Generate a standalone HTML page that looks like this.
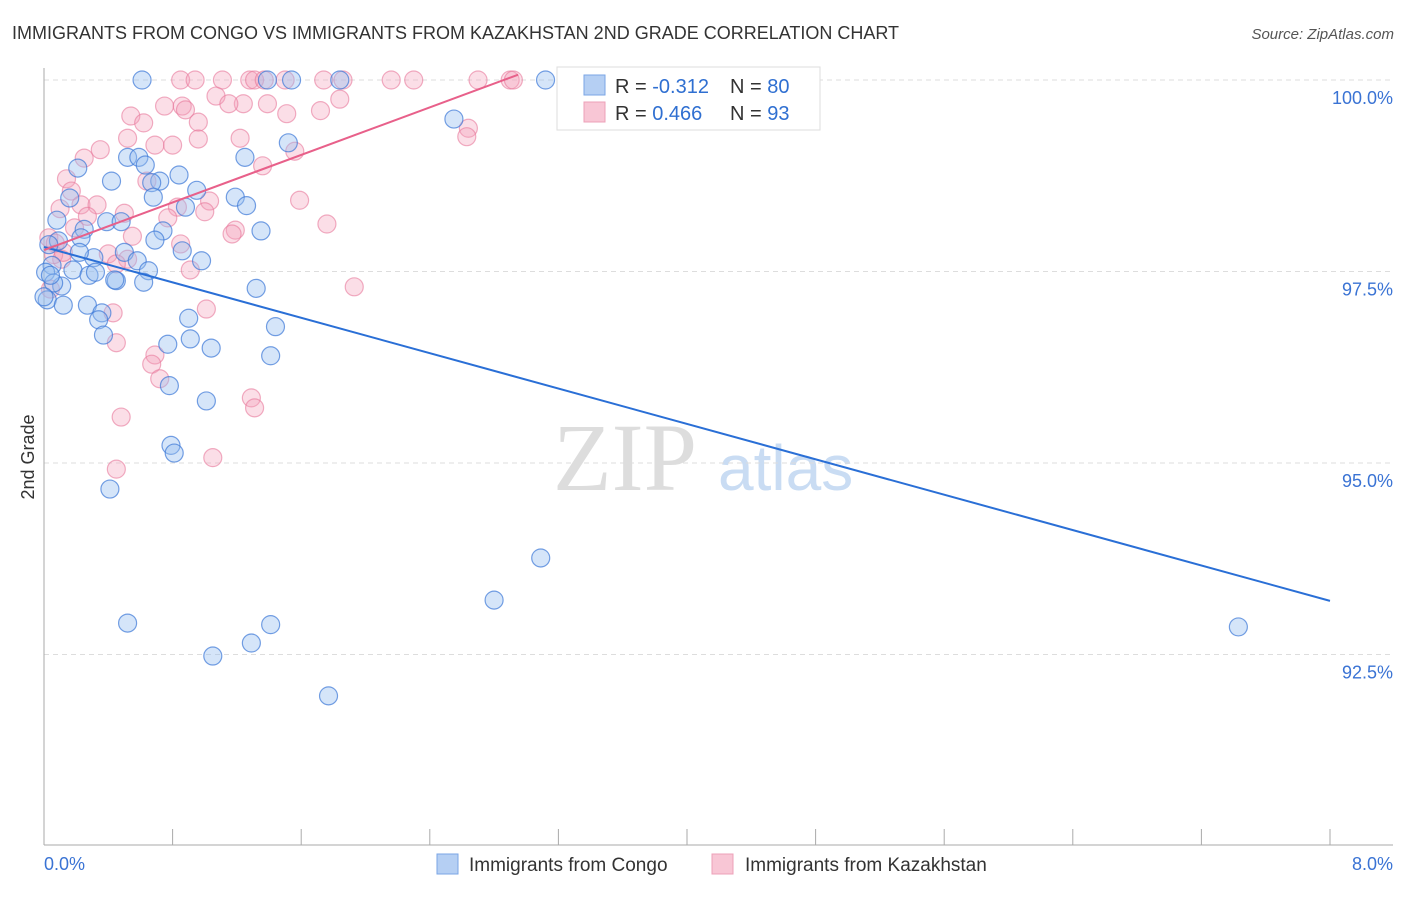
<!DOCTYPE html>
<html><head><meta charset="utf-8"><style>
html,body{margin:0;padding:0;background:#fff;}
body{width:1406px;height:892px;overflow:hidden;font-family:"Liberation Sans",sans-serif;}
</style></head><body>
<svg id="chart" width="1406" height="892" xmlns="http://www.w3.org/2000/svg" font-family="Liberation Sans, sans-serif">
<text x="12" y="39" font-size="18" fill="#333">IMMIGRANTS FROM CONGO VS IMMIGRANTS FROM KAZAKHSTAN 2ND GRADE CORRELATION CHART</text>
<text x="1394" y="39" font-size="15" fill="#555" font-style="italic" text-anchor="end">Source: ZipAtlas.com</text>
<text x="553" y="490" font-size="96" fill="#ddd" font-family="Liberation Serif, serif">ZIP</text>
<text x="718" y="490" font-size="64" fill="#c9dcf3">atlas</text>
<text transform="translate(34,457) rotate(-90)" font-size="18" fill="#333" text-anchor="middle">2nd Grade</text>
<g id="grid"></g>
<g id="axes"></g>
<g id="pts"></g>
<g id="lines"></g>
<g>
<rect x="557" y="67" width="263" height="63" fill="#fff" stroke="#ddd"/>
<rect x="584" y="75" width="21" height="20" fill="#b5cff3" stroke="#7aa5e6"/>
<rect x="584" y="102" width="21" height="20" fill="#f8c6d5" stroke="#eda0b8"/>
<text x="615" y="93" font-size="20" fill="#333">R = <tspan fill="#2f6fd1">-0.312</tspan></text>
<text x="730" y="93" font-size="20" fill="#333">N = <tspan fill="#2f6fd1">80</tspan></text>
<text x="615" y="120" font-size="20" fill="#333">R = <tspan fill="#2f6fd1"> 0.466</tspan></text>
<text x="730" y="120" font-size="20" fill="#333">N = <tspan fill="#2f6fd1"> 93</tspan></text>
</g>
<g>
<rect x="437" y="854" width="21" height="20" fill="#b5cff3" stroke="#7aa5e6"/>
<text x="469" y="871" font-size="19" fill="#333">Immigrants from Congo</text>
<rect x="712" y="854" width="21" height="20" fill="#f8c6d5" stroke="#eda0b8"/>
<text x="745" y="871" font-size="19" fill="#333">Immigrants from Kazakhstan</text>
</g>
</svg>
<script>
const yTicks=[100,97.5,95,92.5];
const yTickLabels=["100.0%","97.5%","95.0%","92.5%"];
const xTickLabels=["0.0%","8.0%"];
const congoX=[0.61,1.39,1.54,1.84,3.12,2.55,1.52,1.25,0.52,0.59,0.21,0.63,0.42,0.84,0.72,0.67,0.95,0.16,1.19,0.68,0.88,1.26,0.08,0.25,0.39,0.48,1.35,0.74,0.09,0.23,0.69,0.50,0.03,0.86,0.98,0.31,0.58,0.22,0.05,0.18,0.28,0.32,0.45,0.65,0.01,0.11,0.44,0.62,0.06,1.32,0.02,0.12,0.27,0.36,0.34,0.90,1.44,0.37,0.91,0.77,1.04,1.41,0.78,1.01,0.79,0.81,0.41,3.09,2.80,0.52,1.41,1.29,1.05,1.77,7.43,0.00,0.04];
const congoY=[100,100,100,100,100,99.49,99.18,98.99,98.99,98.99,98.85,98.89,98.68,98.76,98.68,98.66,98.56,98.46,98.47,98.47,98.34,98.36,98.17,98.05,98.15,98.15,98.03,98.03,97.90,97.94,97.91,97.75,97.85,97.77,97.64,97.68,97.64,97.75,97.58,97.52,97.45,97.49,97.38,97.51,97.49,97.31,97.39,97.36,97.35,97.28,97.13,97.06,97.06,96.96,96.87,96.89,96.78,96.67,96.62,96.55,96.50,96.40,96.01,95.81,95.23,95.13,94.66,93.76,93.21,92.91,92.89,92.65,92.48,91.96,92.86,97.17,97.45];
const kazX=[0.85,0.94,1.11,1.28,1.31,1.37,1.50,1.74,1.86,2.16,2.30,2.70,2.90,2.92,3.29,1.07,0.75,0.86,0.88,1.24,1.39,1.15,1.84,1.72,1.51,0.54,0.62,0.96,0.52,0.69,0.80,0.96,1.22,1.36,1.56,0.25,0.35,2.64,2.63,0.14,0.17,0.64,0.10,0.23,0.33,1.59,1.03,0.27,0.83,0.50,1.00,0.77,1.76,1.19,0.19,1.17,0.03,0.55,0.85,0.11,0.40,0.52,0.45,0.07,0.91,1.93,0.04,0.43,0.06,1.01,0.45,0.69,0.67,0.72,1.29,1.31,0.48,0.45,1.05,0.12];
const kazY=[100,100,100,100,100,100,100,100,100,100,100,100,100,100,100,99.79,99.66,99.66,99.61,99.69,99.69,99.69,99.75,99.60,99.56,99.53,99.44,99.45,99.24,99.15,99.15,99.23,99.24,98.88,99.07,98.98,99.09,99.37,99.26,98.71,98.55,98.68,98.32,98.37,98.37,98.43,98.42,98.22,98.34,98.26,98.28,98.20,98.12,98.04,98.07,97.99,97.94,97.96,97.86,97.66,97.73,97.66,97.60,97.87,97.52,97.30,97.27,96.96,97.72,97.01,96.57,96.41,96.29,96.10,95.85,95.72,95.60,94.92,95.07,97.75];
const congoTrend=[97.82,93.20];
const kazTrend=[97.78,100.07];
const kazTrendEndX=2.95;

const NS="http://www.w3.org/2000/svg";
const X0=44,X1=1330,Y100=80,PXPER=76.6;
function sx(v){return X0+(v/8)*(X1-X0);}
function sy(v){return Y100+(100-v)*PXPER;}
function mk(tag,attrs,parent){const e=document.createElementNS(NS,tag);for(const k in attrs)e.setAttribute(k,attrs[k]);parent.appendChild(e);return e;}
const grid=document.getElementById('grid'),axes=document.getElementById('axes'),pts=document.getElementById('pts'),lines=document.getElementById('lines');
yTicks.forEach((t,i)=>{
  const l=mk('line',{x1:X0,x2:1393,y1:sy(t),y2:sy(t),stroke:'#ddd','stroke-dasharray':'5,4'},grid);
  
  
  const tx=mk('text',{x:1393,y:sy(t)+24,'font-size':18,fill:'#3a73d4','text-anchor':'end'},axes);
  tx.textContent=yTickLabels[i];
  
  
});
const ya=mk('line',{x1:X0,x2:X0,y1:68,y2:845,stroke:'#aaa'},axes);


const xa=mk('line',{x1:X0,x2:1393,y1:845,y2:845,stroke:'#aaa'},axes);


for(let i=0;i<=10;i++){
  const t=mk('line',{x1:sx(i*0.8),x2:sx(i*0.8),y1:829,y2:845,stroke:'#aaa'},axes);
  
  
}
const xl0=mk('text',{x:44,y:870,'font-size':18,fill:'#3a73d4'},axes);xl0.textContent=xTickLabels[0];


const xl1=mk('text',{x:1393,y:870,'font-size':18,fill:'#3a73d4','text-anchor':'end'},axes);xl1.textContent=xTickLabels[1];


kazX.forEach((x,i)=>{
  const c=mk('circle',{cx:sx(x),cy:sy(kazY[i]),r:9,fill:'rgba(244,160,185,0.35)',stroke:'rgba(232,120,155,0.6)','stroke-width':1.2},pts);
  
  
});
congoX.forEach((x,i)=>{
  const c=mk('circle',{cx:sx(x),cy:sy(congoY[i]),r:9,fill:'rgba(150,190,240,0.4)',stroke:'rgba(60,120,215,0.7)','stroke-width':1.2},pts);
  
  
});
const bl=mk('line',{x1:sx(0),y1:sy(congoTrend[0]),x2:sx(8),y2:sy(congoTrend[1]),stroke:'#2a6fd6','stroke-width':2},lines);


const pl=mk('line',{x1:sx(0),y1:sy(kazTrend[0]),x2:sx(kazTrendEndX),y2:sy(kazTrend[1]),stroke:'#e8608a','stroke-width':2},lines);


</script>
</body></html>
